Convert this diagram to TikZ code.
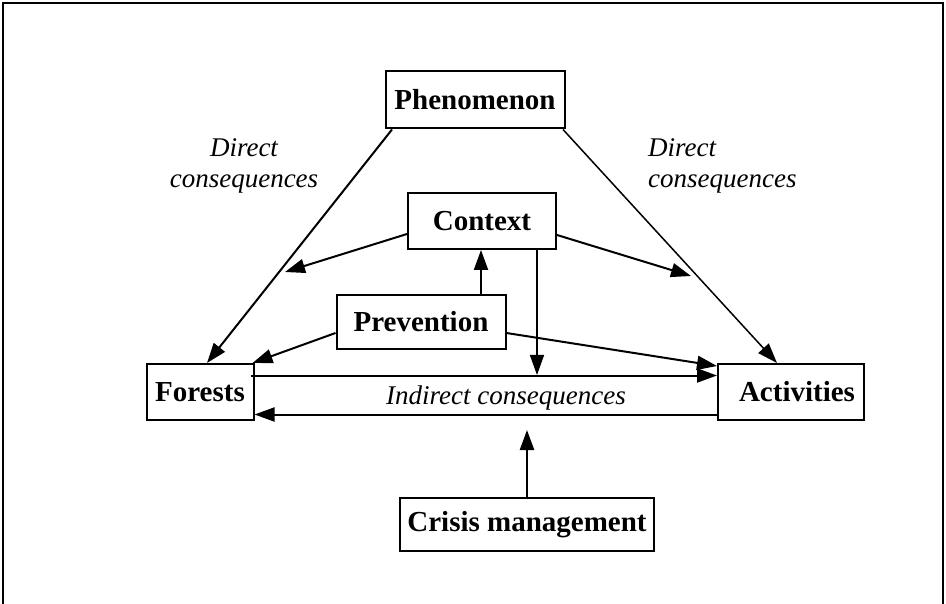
\documentclass[tikz,border=0pt]{standalone}
\usepackage{fontspec}
\setmainfont{Liberation Serif}
\usepackage{tikz}
\usetikzlibrary{arrows.meta}

\begin{document}
\begin{tikzpicture}[x=1pt, y=-1pt,
    box/.style={draw, line width=2pt, inner sep=0pt, font=\fontsize{29}{32}\selectfont\bfseries},
    lbl/.style={font=\fontsize{27}{31}\selectfont\itshape, inner sep=0pt},
    conn/.style={line width=2pt, -{Triangle[length=20pt,width=14pt]}},
    thinconn/.style={line width=1.5pt, -{Triangle[length=20pt,width=14pt]}}]
    \useasboundingbox (0,0) rectangle (946,604);
    \draw[line width=2pt] (3,604) -- (3,3) -- (943,3) -- (943,604);

    % boxes
    \node[box, minimum width=179pt, minimum height=57pt] (phen) at (475,100) {Phenomenon};
    \node[box, minimum width=148pt, minimum height=56pt] (ctx) at (482,221) {Context};
    \node[box, minimum width=169pt, minimum height=54pt] (prev) at (421,322) {Prevention};
    \node[box, minimum width=107pt, minimum height=56pt] (forests) at (200,392) {Forests};
    \node[box, minimum width=146pt, minimum height=56pt, text width=128pt, align=right] (activ) at (791,392) {Activities};
    \node[box, minimum width=254pt, minimum height=53pt] (crisis) at (527,524.5) {Crisis management};

    % labels
    \node[lbl, align=center] (dirleft) at (244,166) {Direct\\consequences};
    \node[lbl, align=left, anchor=west] (dirright) at (648,166) {Direct\\consequences};
    \node[lbl] (indir) at (506,398) {Indirect consequences};

    % free ends
    \coordinate (ctxleft) at (285,272);
    \coordinate (ctxright) at (691,276);
    \coordinate (crisisend) at (527,430);

    % direct consequences
    \draw[conn] ([xshift=7.5pt]phen.south west) -- ([xshift=7pt]forests.north);
    \draw[thinconn] ([xshift=-2.5pt]phen.south east) -- ([xshift=-14pt]activ.north);

    % context
    \draw[conn] ([yshift=-13pt]ctx.west) -- (ctxleft);
    \draw[conn] ([yshift=-14pt]ctx.east) -- (ctxright);
    \draw[conn] ([xshift=60pt]prev.north) -- ([xshift=60pt]prev.north |- ctx.south);
    \draw[thinconn] ([xshift=55pt,yshift=2pt]ctx.south) -- ([xshift=55pt]ctx.south |- 0,375);

    % prevention
    \draw[conn] ([yshift=-11pt]prev.west) -- ([xshift=-2pt]forests.north east);
    \draw[conn] ([yshift=-11pt]prev.east) -- ([yshift=26pt]activ.west);

    % indirect consequences
    \draw[conn] ([xshift=-4pt,yshift=16.5pt]forests.east) -- ([yshift=16.5pt]activ.west);
    \draw[conn] ([yshift=-22.5pt]activ.west) -- ([yshift=-22.5pt]forests.east);

    % crisis management
    \draw[line width=2.4pt, -{Triangle[length=20pt,width=14pt]}] (crisis.north) -- (crisisend);
\end{tikzpicture}
\end{document}
